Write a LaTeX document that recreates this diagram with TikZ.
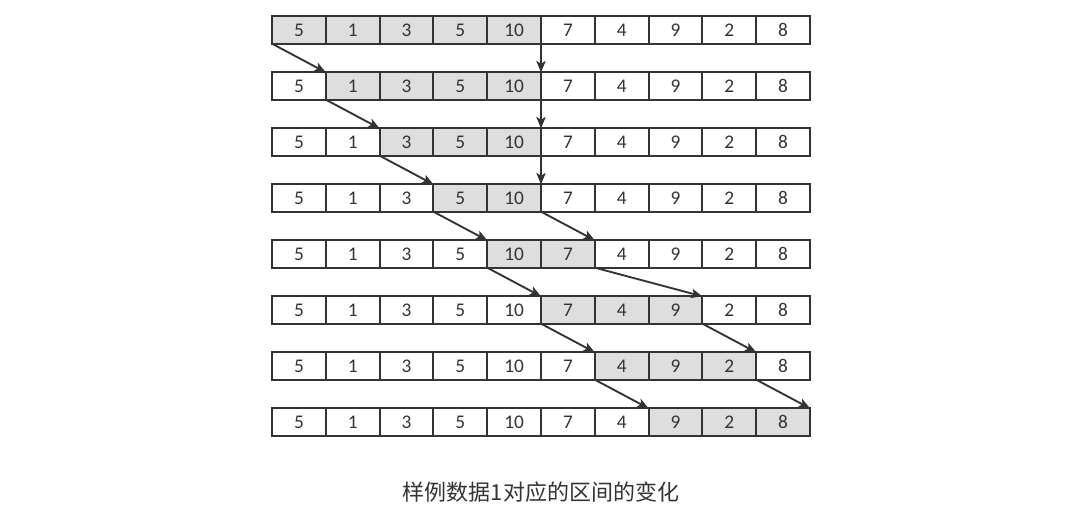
\documentclass[tikz,border=0pt]{standalone}
\usepackage{fontspec}
\setmainfont{Carlito}
\newfontfamily\cjk{Noto Sans CJK SC}
\usetikzlibrary{arrows.meta}
\definecolor{ink}{HTML}{333333}
\definecolor{shade}{HTML}{DEDEDE}
\tikzset{
  cell/.style={draw=ink, line width=1.6pt, text=ink, minimum width=40.35pt, minimum height=20.5pt,
    inner sep=0pt, outer sep=0pt, font=\fontsize{14.5}{15}\selectfont},
  hot/.style={cell, fill=shade},
  ptr/.style={draw=ink, line width=1.4pt, -{Stealth[length=8.5pt,width=7pt,inset=2pt]}},
  caption/.style={text=ink, font=\cjk\fontsize{16.5}{18}\selectfont}
}
\begin{document}
\begin{tikzpicture}[x=0.75pt,y=-0.75pt]
\useasboundingbox (0,0) rectangle (1090,512);
\def\vals{{5,1,3,5,10,7,4,9,2,8}}
% interval bounds per row (0-indexed)
\def\lo{{0,1,2,3,4,5,6,7}}
\def\hi{{4,4,4,4,5,7,8,9}}
\foreach \r in {0,...,7}{
  \foreach \i in {0,...,9}{
    \pgfmathtruncatemacro{\v}{\vals[\i]}
    \pgfmathtruncatemacro{\a}{\lo[\r]}
    \pgfmathtruncatemacro{\b}{\hi[\r]}
    \pgfmathtruncatemacro{\inside}{(\i>=\a)&&(\i<=\b)?1:0}
    \ifnum\inside=1
      \node[hot] (c-\r-\i) at ({272+53.8*(\i+0.5)},{30+56*\r}) {\v};
    \else
      \node[cell] (c-\r-\i) at ({272+53.8*(\i+0.5)},{30+56*\r}) {\v};
    \fi
  }
}
% left pointer moves
\draw[ptr] (c-0-0.south west) -- (c-1-1.north west);
\draw[ptr] (c-1-1.south west) -- (c-2-2.north west);
\draw[ptr] (c-2-2.south west) -- (c-3-3.north west);
\draw[ptr] (c-3-3.south west) -- (c-4-4.north west);
\draw[ptr] (c-4-4.south west) -- (c-5-5.north west);
\draw[ptr] (c-5-5.south west) -- (c-6-6.north west);
\draw[ptr] (c-6-6.south west) -- (c-7-7.north west);
% right pointer moves
\draw[ptr] (c-0-4.south east) -- (c-1-4.north east);
\draw[ptr] (c-1-4.south east) -- (c-2-4.north east);
\draw[ptr] (c-2-4.south east) -- (c-3-4.north east);
\draw[ptr] (c-3-4.south east) -- (c-4-5.north east);
\draw[ptr] (c-4-5.south east) -- (c-5-7.north east);
\draw[ptr] (c-5-7.south east) -- (c-6-8.north east);
\draw[ptr] (c-6-8.south east) -- (c-7-9.north east);
\node[caption] (cap) at (541,492) {样例数据1对应的区间的变化};
\end{tikzpicture}
\end{document}
